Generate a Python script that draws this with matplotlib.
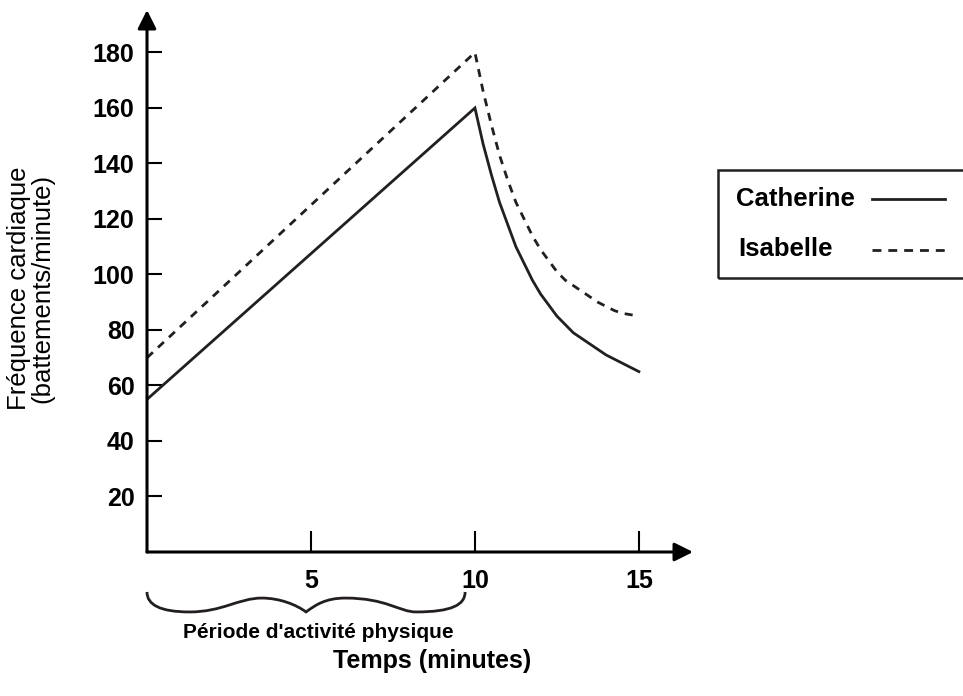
import matplotlib.pyplot as plt
from matplotlib.path import Path
from matplotlib.patches import PathPatch, Rectangle
from matplotlib.lines import Line2D

plt.rcParams['font.family'] = ['Liberation Sans', 'DejaVu Sans']

# minutes / beats per minute
temps = [0, 10, 10.25, 10.5, 10.75, 11, 11.25, 11.5, 11.75, 12, 12.25, 12.5,
         12.75, 13, 13.25, 13.5, 13.75, 14, 14.25, 14.5, 14.75, 15]
catherine = [55, 160, 147, 136, 126, 118, 110, 104, 98, 93, 89, 85,
             82, 79, 77, 75, 73, 71, 69.5, 68, 66.5, 65]
isabelle = [70, 180, 166, 154, 143, 134, 126, 120, 114, 109, 105, 101,
            98, 96, 94, 92, 90, 88.5, 87, 86, 85.5, 85]

y_ticks = [20, 40, 60, 80, 100, 120, 140, 160, 180]
x_ticks = [5, 10, 15]
activite = (0, 9.7)  # brace under the exercise period

W, H = 963, 696
ink = '#231f20'

fig = plt.figure(figsize=(W / 100, H / 100), dpi=100)
ax = fig.add_axes([147 / W, (H - 552) / H, (693 - 147) / W, (552 - 10) / H])
ax.set_xlim(0, 16.65)
ax.set_ylim(0, 195.3)
for s in ax.spines.values():
    s.set_visible(False)

ax.plot(temps, catherine, color=ink, lw=2.0, solid_joinstyle='miter')
ax.plot(temps, isabelle, color=ink, lw=2.0, dashes=(2.9, 2.5))

# axes with arrowheads
arrow = dict(arrowstyle='-|>', lw=2.2, color='black', mutation_scale=28,
             shrinkA=0, shrinkB=0)
ax.annotate('', xy=(1, 0), xytext=(0, 0), xycoords='axes fraction',
            arrowprops=arrow)
ax.annotate('', xy=(0, 1), xytext=(0, 0), xycoords='axes fraction',
            arrowprops=arrow)

ax.set_yticks(y_ticks)
ax.set_xticks(x_ticks)
ax.tick_params(axis='y', direction='in', length=11, width=1.5, pad=9,
               labelsize=18, colors='black')
ax.tick_params(axis='x', direction='in', length=15, width=1.5, pad=12,
               labelsize=18, colors='black')
for lab in ax.get_xticklabels() + ax.get_yticklabels():
    lab.set_fontweight('bold')

# curly brace below the x axis
a, b = activite
m = (a + b) / 2
top, low, hump = -14.4, -21.6, -16.6
verts = [(a, top),
         (a, -19), (a + 0.4, low), (a + 1.3, low),
         (a + 2.3, low), (a + 2.8, hump), (a + 3.5, hump),
         (m - 0.8, hump), (m - 0.3, -19), (m, low),
         (m + 0.3, -19), (m + 0.6, hump), (m + 1.2, hump),
         (b - 2.4, hump), (b - 2.0, low), (b - 1.5, low),
         (b - 0.4, low), (b, -19), (b, top)]
codes = [Path.MOVETO] + [Path.CURVE4] * 18
ax.add_patch(PathPatch(Path(verts, codes), fill=False, lw=2.0, color=ink,
                       clip_on=False))

fig.text(318 / W, 1 - 633 / H, "Période d'activité physique", ha='center',
         va='center', fontsize=15, fontweight='bold')
fig.text(432 / W, 1 - 661 / H, 'Temps (minutes)', ha='center', va='center',
         fontsize=18, fontweight='bold')
fig.text(31 / W, 1 - 288 / H, 'Fréquence cardiaque\n(battements/minute)',
         rotation=90, ha='center', va='center', fontsize=18.5,
         linespacing=0.95)

# legend box, running off the right edge
fig.patches.append(Rectangle((718 / W, 1 - 278 / H), 260 / W, 108 / H,
                             transform=fig.transFigure, fill=False, lw=1.8,
                             edgecolor=ink))
fig.text(736 / W, 1 - 199 / H, 'Catherine', ha='left', va='center',
         fontsize=18.5, fontweight='bold')
fig.text(738 / W, 1 - 249 / H, 'Isabelle', ha='left', va='center',
         fontsize=18.5, fontweight='bold')
fig.lines.append(Line2D([872 / W, 945 / W], [1 - 199 / H] * 2,
                        transform=fig.transFigure, color=ink, lw=2.0))
fig.lines.append(Line2D([872 / W, 945 / W], [1 - 250 / H] * 2,
                        transform=fig.transFigure, color=ink, lw=2.0,
                        dashes=(3.2, 2.5)))

fig.savefig('out.png', dpi=100)
